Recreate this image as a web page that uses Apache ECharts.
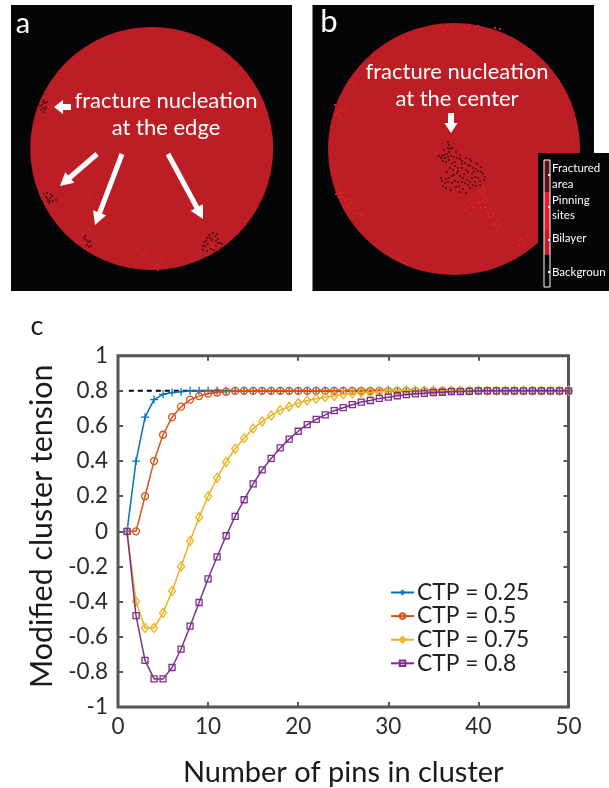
<!DOCTYPE html>
<html><head><meta charset="utf-8">
<style>html,body{margin:0;padding:0;background:#fff}#c{width:609px;height:788px}</style>
<script src="https://cdn.jsdelivr.net/npm/echarts@6/dist/echarts.min.js"></script>
</head><body><div id="c"></div>
<script>
const pins = Array.from({length:50},(_, i)=>i+1);
const ctp025 = [0,.4,.65,.75,.78,.79,.795,.8,.8,.8,.8,.8,.8,.8,.8,.8,.8,.8,.8,.8,.8,.8,.8,.8,.8,.8,.8,.8,.8,.8,.8,.8,.8,.8,.8,.8,.8,.8,.8,.8,.8,.8,.8,.8,.8,.8,.8,.8,.8,.8];
const ctp05 = [0,0,.2,.4,.55,.65,.71,.75,.77,.785,.79,.795,.8,.8,.8,.8,.8,.8,.8,.8,.8,.8,.8,.8,.8,.8,.8,.8,.8,.8,.8,.8,.8,.8,.8,.8,.8,.8,.8,.8,.8,.8,.8,.8,.8,.8,.8,.8,.8,.8];
const ctp075 = [0,-.4,-.55,-.55,-.465,-.34,-.2,-.055,.08,.2,.305,.395,.47,.53,.585,.625,.66,.69,.71,.73,.745,.755,.765,.77,.78,.785,.79,.79,.795,.8,.8,.8,.8,.8,.8,.8,.8,.8,.8,.8,.8,.8,.8,.8,.8,.8,.8,.8,.8,.8];
const ctp08 = [0,-.48,-.735,-.84,-.84,-.775,-.67,-.54,-.405,-.27,-.145,-.025,.085,.18,.27,.35,.415,.475,.525,.57,.608,.638,.663,.687,.704,.721,.736,.745,.757,.764,.772,.778,.783,.786,.79,.792,.795,.796,.797,.8,.8,.8,.8,.8,.8,.8,.8,.8,.8,.8];
const seriesNames = ['CTP = 0.25','CTP = 0.5','CTP = 0.75','CTP = 0.8'];
const xTicks = [0,10,20,30,40,50];
const plateauX = [1.2,50];
const plateauY = [.8,.8];

// image panels: cells (image pixel units)
const discA = [[151.7,148.5]];
const discB = [[454,149]];
const fracturedA = [[41,110],[43,108],[42,105],[45,103],[44,100],[47,102],[46,107],[44,112],[40,106],[43,102],[45,109],
 [44,194],[46,197],[48,200],[50,198],[52,196],[49,203],[53,201],[56,200],[47,193],[51,194],[47,198],[50,201],
 [84,238],[86,240],[88,242],[87,245],[90,241],[91,246],[89,247],[85,236],
 [203,250],[205,246],[204,242],[207,238],[209,235],[212,240],[215,236],[217,234],[218,239],[220,243],[216,246],[211,249],[207,251],[221,248],[214,250],[208,244],[219,251],[206,241],[213,233],[218,243],[210,238],[203,246],[216,241],[222,244]];
const pinsA = [[48,107],[52,107],[85,232],[88,228],[83,234],[212,245],[213,247],[210,243],[157,265],[160,262],[155,268],[158,270],[162,259],[138,250],[142,255],[88,196],[90,200],[120,55],[200,50],[104,53],[136,199],[145,254],[220,232]];
const fracturedB = [[448,142],[449,145],[448,148],[450,149],[449,152],[447,154],[444,155],[442,156],[439,156],[441,158],[445,158],[448,157],[451,156],[454,157],[457,158],[460,159],[462,161],[465,163],[468,165],[470,166],[473,168],[476,169],[478,171],[481,172],[483,174],[485,177],[484,180],[480,181],[478,178],[475,177],[472,174],[468,172],[466,170],[462,168],[458,168],[455,166],[452,163],[450,168],[453,170],[457,173],[460,176],[463,178],[467,180],[470,182],[468,185],[470,188],[465,183],[462,182],[458,182],[455,181],[452,183],[448,182],[445,183],[442,181],[441,178],[446,179],[449,178],[452,176],[458,171],[464,174],[472,178],[475,182],
 [444,150],[452,148],[456,152],[460,155],[466,158],[471,161],[477,164],[481,167],[446,162],[449,160],[443,161],[455,162],[462,164],[470,159],[474,172],[454,175],[447,172],[443,186],[446,188],[451,190],[456,187],[459,186],[463,189],[466,193],[460,192],[480,185],[476,186],[473,185]];
const pinsB = [[480,185],[483,188],[482,193],[478,198],[480,203],[485,207],[488,213],[492,217],[497,220],[493,225],[500,225],[497,230],[468,208],[465,210],[473,207],[477,203],[470,213],[487,200],[484,197],[490,208],[494,212],[436,153],[456,170],[479,191],[483,200],[486,203],[481,208],[489,218],[493,214],[495,224],[498,227],[462,208],[475,211],[472,204],
 [337,190],[340,193],[342,197],[345,200],[350,203],[347,207],[352,210],[355,213],[360,214],[363,215],[344,205],[356,208],[339,197],[336,194],[343,193],[348,199],
 [398,258],[402,262],[405,263],[400,260],
 [440,27],[447,26],[452,30],[465,27],[470,25],[475,28],[480,30],[495,28],[500,29],[403,38],[443,30],[468,29],[478,26],
 [337,113],[341,110],[345,110],[340,116],[335,115],[340,120],[335,105],[353,85],
 [522,238],[523,243],[525,248],[520,240],[527,236],[519,245],[572,141],[528,60],[520,255]];

const BILAYER='#BD1E26', PIN='#DE2028', FRACT='#5A1015', BG='#030507';
const font='Lato,"Open Sans",sans-serif';
const cols=['#0072BD','#D95319','#EDB120','#7E2F8E'];
const syms=['path://M0 5H10M5 0V10','circle','diamond','rect'];
const sizes=[8,7,[7,9],6];
const vals=[ctp025,ctp05,ctp075,ctp08];
const zip=(a,b)=>a.map((v,i)=>[v,b[i]]);

function arrow(x1,y1,x2,y2,w=5,hw=14,hl=13){
  const d=Math.hypot(x2-x1,y2-y1),u=(x2-x1)/d,v=(y2-y1)/d,n=[-v,u];
  const bx=x2-u*hl,by=y2-v*hl;
  return {type:'polygon',z:50,silent:true,style:{fill:'#fff'},shape:{points:[
    [x1+n[0]*w/2,y1+n[1]*w/2],[bx+n[0]*w/2,by+n[1]*w/2],[bx+n[0]*hw/2,by+n[1]*hw/2],[x2,y2],
    [bx-n[0]*hw/2,by-n[1]*hw/2],[bx-n[0]*w/2,by-n[1]*w/2],[x1-n[0]*w/2,y1-n[1]*w/2]]}};
}
function label(t,x,y,size,fill='#fff',align='center',family=font){
  return {type:'text',z:60,silent:true,x,y,style:{text:t,fontSize:size,fontFamily:family,fill,align,verticalAlign:'middle'}};
}
function rect(x,y,w,h,fill,extra={}){
  return {type:'rect',z:55,silent:true,shape:{x,y,width:w,height:h},style:Object.assign({fill},extra)};
}
function cells(data,color,xi,yi,size=2){
  return {type:'scatter',xAxisIndex:xi,yAxisIndex:yi,data,symbol:'rect',symbolSize:size,silent:true,z:3,itemStyle:{color,opacity:.95},animation:false};
}
function disc(data,size,xi,yi){
  return {type:'scatter',xAxisIndex:xi,yAxisIndex:yi,data,symbol:'circle',symbolSize:size,silent:true,z:2,itemStyle:{color:BILAYER,opacity:1},animation:false};
}
const hiddenX=(gridIndex,min,max)=>({type:'value',gridIndex,min,max,show:false});
const hiddenY=(gridIndex,min,max)=>({type:'value',gridIndex,min,max,inverse:true,show:false});
const axisCol='#555';
const tick={show:true,inside:true,length:5,lineStyle:{color:axisCol,width:2}};
const line={show:false,onZero:false};

const chart=echarts.init(document.getElementById('c'),null,{renderer:'canvas'});
chart.setOption({
  animation:false,backgroundColor:'#fff',
  grid:[
    {left:118,top:355.7,width:450.5,height:354.4,show:true,borderColor:axisCol,borderWidth:3,backgroundColor:'#fff'},
    {left:11,top:5,width:281,height:286,show:true,borderWidth:0,backgroundColor:BG},
    {left:312.5,top:5,width:281.5,height:286,show:true,borderWidth:0,backgroundColor:BG}
  ],
  xAxis:[
    {type:'value',gridIndex:0,min:0,max:50,interval:10,axisLine:line,splitLine:{show:false},axisTick:tick,
     axisLabel:{fontSize:22.5,fontFamily:font,color:'#2b2b2b',margin:8,formatter:v=>xTicks.includes(v)?String(v):''},
     name:'Number of pins in cluster',nameLocation:'middle',nameGap:51,nameTextStyle:{fontSize:29,fontFamily:font,color:'#1a1a1a'}},
    {type:'value',gridIndex:0,position:'top',min:0,max:50,interval:10,axisLine:line,splitLine:{show:false},axisTick:tick,axisLabel:{show:false}},
    hiddenX(1,11,292),hiddenX(2,312.5,594)
  ],
  yAxis:[
    {type:'value',gridIndex:0,min:-1,max:1,interval:.2,axisLine:line,splitLine:{show:false},axisTick:tick,
     axisLabel:{fontSize:22.5,fontFamily:font,color:'#2b2b2b',margin:10,formatter:v=>String(+v.toFixed(1))},
     name:'Modified cluster tension',nameLocation:'middle',nameGap:58,nameRotate:90,nameTextStyle:{fontSize:30.4,fontFamily:font,color:'#1a1a1a',padding:[0,0,0,10]}},
    {type:'value',gridIndex:0,position:'right',min:-1,max:1,interval:.2,axisLine:line,splitLine:{show:false},axisTick:tick,axisLabel:{show:false}},
    hiddenY(1,5,291),hiddenY(2,5,291)
  ],
  legend:{show:true,orient:'vertical',left:390,top:581,itemWidth:23,itemHeight:7,itemGap:0.6,padding:0,
    data:seriesNames,textStyle:{fontSize:22.8,fontFamily:font,color:'#222',padding:[0,0,0,-2]},selectedMode:false},
  series:[
    disc(discA,243,2,2),disc(discB,252,3,3),
    cells(pinsA,PIN,2,2),cells(fracturedA,FRACT,2,2),
    cells(pinsB,PIN,3,3),cells(fracturedB,FRACT,3,3),
    {type:'line',xAxisIndex:0,yAxisIndex:0,data:zip(plateauX,plateauY),symbol:'none',silent:true,z:1,lineStyle:{color:'#000',width:2,type:[5,4]}},
    ...seriesNames.map((name,i)=>({
      name,type:'line',xAxisIndex:0,yAxisIndex:0,data:zip(pins,vals[i]),symbol:syms[i],symbolSize:sizes[i],showAllSymbol:true,z:5+i,
      lineStyle:{color:cols[i],width:1.5},itemStyle:{color:'rgba(255,255,255,0)',borderColor:cols[i],borderWidth:1.3}
    }))
  ],
  graphic:[
    label('a',23,24,29),label('b',329,22,31),label('c',37,326,27,'#1a1a1a'),
    label('fracture nucleation',166,101,22),label('at the edge',166,128,22),
    label('fracture nucleation',457,72,22),label('at the center',457,99,22),
    arrow(71,107,54,107,6,14,9),arrow(97,154,60,186),arrow(122,154,95,225),arrow(168,154,203,219),
    arrow(451,113,451,133,6,13,10),
    rect(538,153,71,138,BG),
    rect(544,160,6,32,FRACT),rect(544,192,6,38,PIN),rect(544,230,6,25,BILAYER),rect(544,255,6,32,BG),
    rect(544,160,6,127,'rgba(0,0,0,0)',{stroke:'#fff',lineWidth:1}),
    rect(548,174,2,2,'#fff'),rect(548,206,2,2,'#fff'),rect(548,239,2,2,'#fff'),rect(548,271,2,2,'#fff'),
    label('Fractured',552,168,11.5,'#fff','left'),label('area',552,184,11.5,'#fff','left'),
    label('Pinning',552,200,11.5,'#fff','left'),label('sites',552,215,11.5,'#fff','left'),
    label('Bilayer',552,238,11.5,'#fff','left'),label('Backgroun',552,272,11.5,'#fff','left')
  ]
});
</script></body></html>
